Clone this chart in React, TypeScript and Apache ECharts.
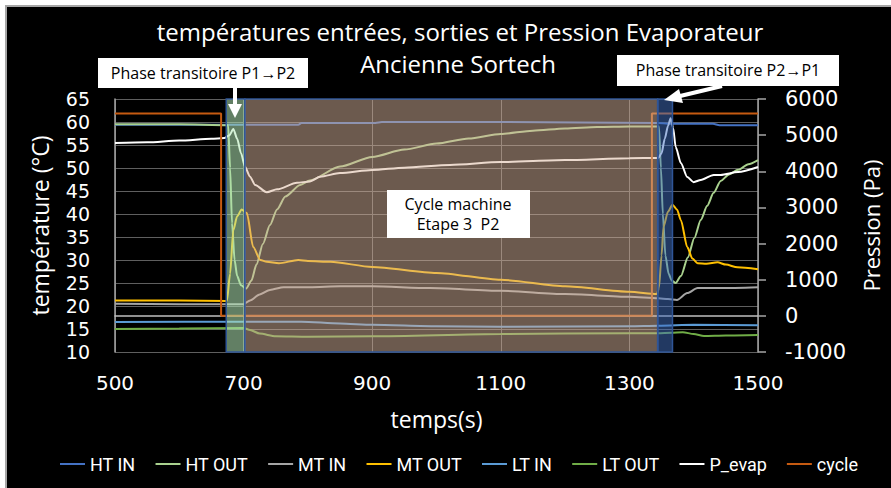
import React, { useEffect, useRef } from "react";
import * as echarts from "echarts";

// ---- data ----
const htInT = [500, 600, 700, 785, 790, 905, 915, 1100, 1345, 1360, 1430, 1440, 1500];
const htInV = [59.4, 59.4, 59.4, 59.4, 59.8, 59.8, 60.0, 60.0, 59.8, 59.6, 59.6, 59.3, 59.3];

const htOutT = [500, 600, 676, 679, 682, 686, 690, 696, 704, 712, 720, 730, 741, 752, 765, 788, 803, 850, 900, 950, 1000, 1050, 1100, 1150, 1200, 1250, 1300, 1346, 1349, 1352, 1356, 1361, 1366, 1372, 1380, 1391, 1401, 1411, 1421, 1431, 1442, 1455, 1469, 1485, 1500];
const htOutV = [59.5, 59.5, 59.3, 50, 38, 30, 26.5, 24.5, 23.8, 25.5, 29, 33.5, 37.6, 41, 43.8, 46.3, 47.3, 50.3, 52.4, 54, 55.3, 56.4, 57.4, 58.1, 58.6, 58.9, 59.0, 59.0, 50, 40, 31, 27, 25.5, 25, 26.5, 30.6, 34.8, 38.7, 41.8, 44.6, 47.2, 48.6, 49.6, 50.8, 51.7];

const mtInT = [500, 600, 700, 710, 725, 741, 762, 803, 850, 900, 990, 1100, 1200, 1300, 1345, 1360, 1374, 1390, 1406, 1442, 1500];
const mtInV = [20.5, 20.4, 20.4, 21.2, 22.5, 23.5, 24.1, 24.1, 24.3, 24.3, 23.9, 23.3, 22.6, 22.0, 21.7, 21.5, 21.3, 22.8, 23.9, 23.9, 24.1];

const mtOutT = [500, 600, 674, 679, 684, 690, 697, 705, 715, 726, 736, 755, 785, 800, 835, 900, 1000, 1100, 1200, 1300, 1343, 1346, 1350, 1353, 1360, 1367, 1374, 1380, 1390, 1398, 1406, 1420, 1437, 1450, 1468, 1500];
const mtOutV = [21.2, 21.2, 21.1, 27, 36.5, 39.5, 41, 40.2, 32.8, 30, 29.6, 29.3, 30, 29.8, 29.6, 28.5, 27.2, 25.7, 24.3, 23.1, 22.6, 24, 31, 37.2, 40.5, 42, 41, 38.7, 32.8, 30.3, 29.3, 29.2, 29.5, 29.0, 28.4, 28.0];

const ltInT = [500, 700, 790, 850, 900, 1000, 1100, 1300, 1345, 1400, 1500];
const ltInV = [16.5, 16.6, 16.6, 16.2, 15.9, 15.6, 15.5, 15.6, 15.7, 15.9, 15.8];

const ltOutT = [500, 600, 700, 710, 725, 750, 800, 900, 1100, 1300, 1345, 1365, 1383, 1400, 1416, 1450, 1500];
const ltOutV = [15.0, 15.1, 15.2, 14.8, 14.0, 13.4, 13.3, 13.4, 13.9, 14.1, 14.1, 14.2, 14.3, 13.9, 13.5, 13.6, 13.7];

const pEvapT = [500, 550, 600, 650, 670, 678, 684, 690, 696, 702, 710, 718, 736, 752, 783, 803, 819, 850, 900, 950, 1021, 1100, 1200, 1300, 1345, 1350, 1355, 1360, 1364, 1368, 1372, 1380, 1390, 1400, 1411, 1431, 1442, 1469, 1500];
const pEvapV = [4780, 4800, 4850, 4900, 4920, 5000, 5170, 4900, 4500, 4130, 3850, 3620, 3420, 3500, 3680, 3720, 3850, 3950, 4035, 4100, 4175, 4255, 4310, 4360, 4370, 4500, 4900, 5250, 5470, 5200, 4670, 4230, 3840, 3700, 3760, 3900, 3900, 3980, 4120];

const cycleT = [500, 665, 665, 1335, 1335, 1500];
const cycleV = [5600, 5600, 0, 0, 5600, 5600];

const phaseStart = [673, 702, 1344];
const phaseEnd = [702, 1344, 1367];

const legendNames = ["HT IN", "HT OUT", "MT IN", "MT OUT", "LT IN", "LT OUT", "P_evap", "cycle"];
const seriesColors = ["#4472C4", "#A9D18E", "#A5A5A5", "#FFC000", "#5B9BD5", "#70AD47", "#FFFFFF", "#C55A11"];

const titleLine1 = "températures entrées, sorties et Pression Evaporateur";
const titleLine2 = "Ancienne Sortech";

const FONT = "'Open Sans', sans-serif";
const NUMFONT = "'DejaVu Sans', sans-serif";

function zip(t: number[], v: number[]) {
  return t.map((x, i) => [x, v[i]]);
}

const plain = (v: number) => String(v);

export default function App() {
  const ref = useRef<HTMLDivElement>(null);
  useEffect(() => {
    if (!ref.current) return;
    const chart = echarts.init(ref.current, undefined, { renderer: "svg" });
    const seriesData = [
      zip(htInT, htInV),
      zip(htOutT, htOutV),
      zip(mtInT, mtInV),
      zip(mtOutT, mtOutV),
      zip(ltInT, ltInV),
      zip(ltOutT, ltOutV),
      zip(pEvapT, pEvapV),
      zip(cycleT, cycleV),
    ];
    const axisIdx = [0, 0, 0, 0, 0, 0, 1, 1];
    const lineSeries = legendNames.map((name, i) => ({
      name,
      type: "line",
      yAxisIndex: axisIdx[i],
      data: seriesData[i],
      showSymbol: false,
      smooth: i === 7 ? false : 0.25,
      smoothMonotone: "x",
      lineStyle: { width: 2, color: seriesColors[i] },
      itemStyle: { color: seriesColors[i] },
      z: 2,
    }));
    const bandStyles = [
      { color: "rgba(178,232,182,0.55)", borderColor: "#2F5597", borderWidth: 1.5 },
      { color: "rgba(216,180,156,0.5)", borderColor: "#2F5597", borderWidth: 1.5 },
      { color: "rgba(68,114,196,0.5)", borderColor: "#2F5597", borderWidth: 1.5 },
    ];
    const bandSeries = {
      name: "bands",
      type: "line",
      data: [[500, null]],
      showSymbol: false,
      silent: true,
      z: 5,
      markArea: {
        silent: true,
        z: 5,
        data: phaseStart.map((s, i) => [
          { xAxis: s, itemStyle: bandStyles[i] },
          { xAxis: phaseEnd[i] },
        ]),
      },
    };

    const arrowStyle = { stroke: "#FFFFFF", lineWidth: 4 };
    const Z = 100;
    const boxText = (text: string, x: number, y: number) => ({
      type: "text", x, y, z: Z + 1,
      style: { text, fill: "#000", fontSize: 16, fontFamily: FONT, align: "center", verticalAlign: "middle" },
    });
    chart.setOption({
      animation: false,
      backgroundColor: "transparent",
      title: [
        { text: titleLine1, left: 455, top: 14, textAlign: "center", textStyle: { color: "#fff", fontSize: 24, fontWeight: "normal", fontFamily: FONT } },
        { text: titleLine2, left: 453, top: 46, textAlign: "center", textStyle: { color: "#fff", fontSize: 24, fontWeight: "normal", fontFamily: FONT } },
      ],
      legend: {
        data: legendNames,
        bottom: 10,
        left: 55,
        icon: "rect",
        itemWidth: 25,
        itemHeight: 2,
        itemGap: 20,
        textStyle: { color: "#fff", fontSize: 18, fontFamily: "Roboto, sans-serif" },
      },
      grid: { left: 115, right: 133, top: 99, bottom: 136, containLabel: false },
      xAxis: {
        type: "value",
        min: 500,
        max: 1500,
        interval: 200,
        axisLine: { show: true, lineStyle: { color: "#bfbfbf", width: 1.5 } },
        axisTick: { show: false },
        axisLabel: { color: "#fff", fontSize: 20, margin: 21, fontFamily: NUMFONT, formatter: plain },
        splitLine: { show: true, lineStyle: { color: "#5f5f5f", width: 1 } },
        name: "temps(s)",
        nameLocation: "middle",
        nameGap: 55,
        nameTextStyle: { color: "#fff", fontSize: 23, fontFamily: FONT },
      },
      yAxis: [
        {
          type: "value",
          min: 10,
          max: 65,
          interval: 5,
          position: "left",
          axisLine: { show: true, lineStyle: { color: "#a6a6a6", width: 1.5 } },
          axisTick: { show: false },
          axisLabel: { color: "#fff", fontSize: 19, lineHeight: 19, margin: 25, fontFamily: NUMFONT, formatter: plain },
          splitLine: { show: true, lineStyle: { color: "#5f5f5f", width: 1 } },
          name: "température (°C)",
          nameLocation: "middle",
          nameGap: 64,
          nameTextStyle: { color: "#fff", fontSize: 23, fontFamily: FONT },
        },
        {
          type: "value",
          min: -1000,
          max: 6000,
          interval: 1000,
          position: "right",
          axisLine: { show: true, lineStyle: { color: "#a6a6a6", width: 1.5 } },
          axisTick: { show: true, length: 8, inside: false, lineStyle: { color: "#a6a6a6", width: 1.5 } },
          axisLabel: { color: "#fff", fontSize: 21, margin: 27, fontFamily: NUMFONT, formatter: plain },
          splitLine: { show: false },
          name: "Pression (Pa)",
          nameLocation: "middle",
          nameGap: 102,
          nameTextStyle: { color: "#fff", fontSize: 22, fontFamily: FONT },
        },
      ],
      series: [...lineSeries, bandSeries],
      graphic: [
        { type: "rect", z: Z, shape: { x: 98, y: 58, width: 210, height: 30 }, style: { fill: "#fff" } },
        boxText("Phase transitoire P1→P2", 203, 73),
        { type: "line", z: Z, shape: { x1: 235, y1: 88, x2: 235, y2: 106 }, style: arrowStyle },
        { type: "polygon", z: Z, shape: { points: [[228, 104], [242, 104], [235, 118]] }, style: { fill: "#fff" } },

        { type: "rect", z: Z, shape: { x: 617, y: 55, width: 222, height: 31 }, style: { fill: "#fff" } },
        boxText("Phase transitoire P2→P1", 728, 70),
        { type: "line", z: Z, shape: { x1: 722, y1: 86, x2: 676, y2: 97 }, style: arrowStyle },
        { type: "polygon", z: Z, shape: { points: [[664, 100], [679, 89], [683, 103]] }, style: { fill: "#fff" } },

        { type: "rect", z: Z, shape: { x: 387, y: 190, width: 143, height: 48 }, style: { fill: "#fff" } },
        boxText("Cycle machine", 458, 204),
        boxText("Etape 3  P2", 458, 224),
      ],
    });
    return () => chart.dispose();
  }, []);

  return (
    <div style={{ position: "absolute", left: 0, top: 0, width: 891, height: 488, background: "#fff", overflow: "hidden" }}>
      <div style={{ position: "absolute", left: 5, top: 5, width: 886, height: 483, background: "#000", borderLeft: "2px solid #a6a6a6", borderTop: "2px solid #a6a6a6", boxSizing: "border-box" }} />
      <div ref={ref} style={{ position: "absolute", left: 0, top: 0, width: 891, height: 488 }} />
    </div>
  );
}
